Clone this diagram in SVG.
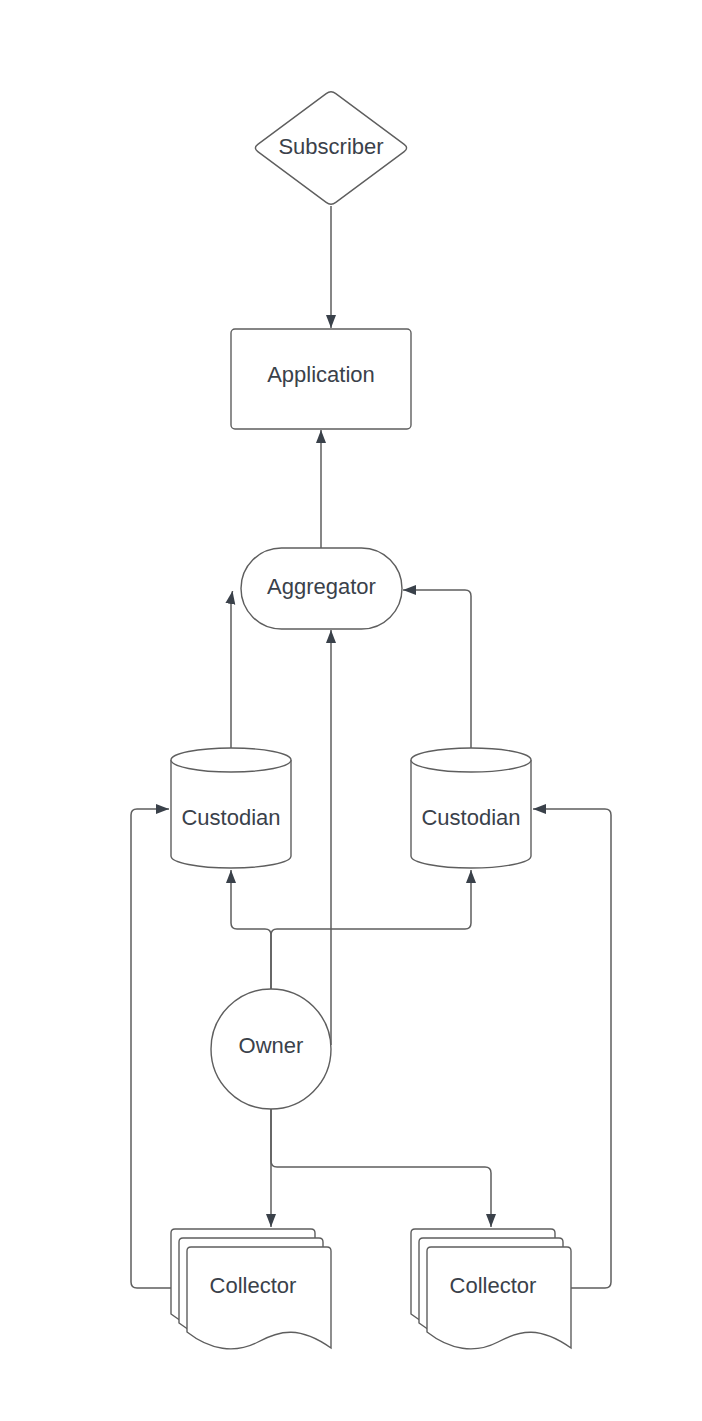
<svg xmlns="http://www.w3.org/2000/svg" width="702" height="1421" viewBox="0 0 702 1421">
<style>
.node{fill:#ffffff;stroke:#5e5e5e;stroke-width:1.4}
.lbl{font-family:"Liberation Sans",Arial,sans-serif;font-size:22px;fill:#3a414a;text-anchor:middle}
.edge{fill:none;stroke:#5e5e5e;stroke-width:1.5}
</style>
<defs>
<marker id="arr" markerUnits="userSpaceOnUse" markerWidth="14" markerHeight="12" refX="13" refY="5" orient="auto">
<path d="M0,0 L13,5 L0,10 Z" fill="#3a414a"/>
</marker>
<path id="doc" d="M4,0 L140,0 Q144,0 144,4 L144,101 C113,79 93,83 71,95 C48,107 23,103 0,85 L0,4 Q0,0 4,0 Z"/>
</defs>
<rect width="702" height="1421" fill="#ffffff"/>
<g id="connectors">
<path class="edge" marker-end="url(#arr)" d="M331,206 L331,328"/>
<path class="edge" marker-end="url(#arr)" d="M321,548 L321,430"/>
<path class="edge" marker-end="url(#arr)" d="M231,748 L231,600 L232.5,591"/>
<path class="edge" marker-end="url(#arr)" d="M471,748 L471,596 Q471,590 465,590 L403,590"/>
<path class="edge" marker-end="url(#arr)" d="M331,1045 L331,630"/>
<path class="edge" marker-end="url(#arr)" d="M271,989 L271,935 Q271,929 265,929 L237,929 Q231,929 231,923 L231,870"/>
<path class="edge" marker-end="url(#arr)" d="M271,989 L271,935 Q271,929 277,929 L465,929 Q471,929 471,923 L471,870"/>
<path class="edge" marker-end="url(#arr)" d="M271,1109 L271,1227"/>
<path class="edge" marker-end="url(#arr)" d="M271,1109 L271,1161 Q271,1167 277,1167 L485,1167 Q491,1167 491,1173 L491,1227"/>
<path class="edge" marker-end="url(#arr)" d="M171,1288 L137,1288 Q131,1288 131,1282 L131,815 Q131,809 137,809 L169,809"/>
<path class="edge" marker-end="url(#arr)" d="M571,1288 L605,1288 Q611,1288 611,1282 L611,815 Q611,809 605,809 L533,809"/>
</g>
<g id="subscriber">
<path class="node" d="M326.19,93.58 Q331,90 335.81,93.58 L404.19,144.42 Q409,148 404.19,151.58 L335.81,202.42 Q331,206 326.19,202.42 L257.81,151.58 Q253,148 257.81,144.42 Z"/>
<text class="lbl" x="331" y="154">Subscriber</text>
</g>
<g id="application">
<rect class="node" x="231" y="329" width="180" height="100" rx="4"/>
<text class="lbl" x="321" y="382">Application</text>
</g>
<g id="aggregator">
<rect class="node" x="241" y="548" width="161" height="81" rx="40.5"/>
<text class="lbl" x="321.5" y="594">Aggregator</text>
</g>
<g id="custodian1">
<path class="node" d="M171,760 A60,12 0 0 1 291,760 L291,856 A60,12 0 0 1 171,856 Z"/>
<path class="node" fill="none" d="M171,760 A60,12 0 0 0 291,760"/>
<text class="lbl" x="231" y="825">Custodian</text>
</g>
<g id="custodian2">
<path class="node" d="M411,760 A60,12 0 0 1 531,760 L531,856 A60,12 0 0 1 411,856 Z"/>
<path class="node" fill="none" d="M411,760 A60,12 0 0 0 531,760"/>
<text class="lbl" x="471" y="825">Custodian</text>
</g>
<g id="owner">
<circle class="node" cx="271" cy="1049" r="60"/>
<text class="lbl" x="271" y="1053">Owner</text>
</g>
<g id="collector1">
<use href="#doc" class="node" transform="translate(171,1229)"/>
<use href="#doc" class="node" transform="translate(179,1238)"/>
<use href="#doc" class="node" transform="translate(187,1247)"/>
<text class="lbl" x="253" y="1293">Collector</text>
</g>
<g id="collector2">
<use href="#doc" class="node" transform="translate(411,1229)"/>
<use href="#doc" class="node" transform="translate(419,1238)"/>
<use href="#doc" class="node" transform="translate(427,1247)"/>
<text class="lbl" x="493" y="1293">Collector</text>
</g>
</svg>
